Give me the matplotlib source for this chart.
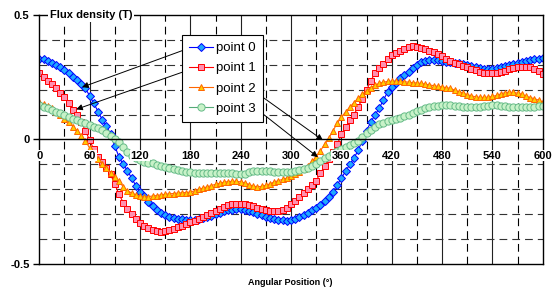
import numpy as np
import matplotlib
matplotlib.use('Agg')
import matplotlib.pyplot as plt
from matplotlib.ticker import MultipleLocator

plt.rcParams['font.family'] = ['Liberation Sans', 'DejaVu Sans']

# angular positions, one reading every 5 degrees
angle = list(range(0, 601, 5))

point0 = [0.325, 0.322, 0.316, 0.308, 0.298, 0.289, 0.278, 0.265, 0.252, 0.238,
          0.222, 0.205, 0.175, 0.145, 0.112, 0.080, 0.055, 0.020, -0.027, -0.070,
          -0.100, -0.125, -0.155, -0.185, -0.210, -0.228, -0.250, -0.268, -0.282, -0.295,
          -0.305, -0.311, -0.316, -0.319, -0.321, -0.323, -0.324, -0.322, -0.320, -0.316,
          -0.312, -0.306, -0.300, -0.294, -0.289, -0.285, -0.282, -0.281, -0.281, -0.284,
          -0.288, -0.293, -0.299, -0.305, -0.310, -0.315, -0.319, -0.322, -0.325, -0.326,
          -0.324, -0.318, -0.310, -0.302, -0.294, -0.285, -0.275, -0.262, -0.246, -0.230,
          -0.210, -0.182, -0.155, -0.128, -0.100, -0.075, -0.043, -0.005, 0.035, 0.070,
          0.098, 0.125, 0.158, 0.190, 0.210, 0.228, 0.245, 0.258, 0.272, 0.285,
          0.300, 0.310, 0.316, 0.320, 0.321, 0.320, 0.317, 0.313, 0.310, 0.308,
          0.306, 0.304, 0.300, 0.296, 0.291, 0.287, 0.284, 0.283, 0.284, 0.286,
          0.289, 0.293, 0.298, 0.304, 0.309, 0.313, 0.317, 0.320, 0.322, 0.324,
          0.327]

point1 = [0.265, 0.250, 0.234, 0.222, 0.206, 0.188, 0.170, 0.146, 0.118, 0.098,
          0.070, 0.035, -0.003, -0.040, -0.070, -0.090, -0.115, -0.140, -0.180, -0.220,
          -0.253, -0.278, -0.300, -0.320, -0.335, -0.347, -0.356, -0.362, -0.367, -0.370,
          -0.368, -0.364, -0.358, -0.352, -0.346, -0.339, -0.332, -0.326, -0.319, -0.311,
          -0.303, -0.295, -0.287, -0.278, -0.270, -0.263, -0.259, -0.257, -0.257, -0.259,
          -0.263, -0.268, -0.274, -0.280, -0.285, -0.288, -0.289, -0.289, -0.284, -0.274,
          -0.260, -0.245, -0.230, -0.215, -0.198, -0.182, -0.165, -0.135, -0.108, -0.080,
          -0.050, -0.020, 0.020, 0.050, 0.077, 0.100, 0.130, 0.163, 0.198, 0.235,
          0.266, 0.287, 0.305, 0.322, 0.338, 0.348, 0.357, 0.364, 0.372, 0.375,
          0.370, 0.367, 0.362, 0.356, 0.350, 0.343, 0.334, 0.325, 0.316, 0.308,
          0.302, 0.296, 0.290, 0.283, 0.277, 0.272, 0.268, 0.266, 0.265, 0.266,
          0.270, 0.276, 0.282, 0.286, 0.289, 0.291, 0.291, 0.290, 0.283, 0.273,
          0.262]

point2 = [0.150, 0.142, 0.134, 0.125, 0.112, 0.098, 0.084, 0.069, 0.052, 0.035,
          0.015, -0.005, -0.035, -0.060, -0.078, -0.098, -0.116, -0.133, -0.150, -0.168,
          -0.190, -0.205, -0.215, -0.222, -0.228, -0.230, -0.229, -0.227, -0.225, -0.222,
          -0.220, -0.218, -0.217, -0.215, -0.214, -0.213, -0.211, -0.206, -0.200, -0.195,
          -0.190, -0.185, -0.180, -0.176, -0.172, -0.169, -0.168, -0.168, -0.170, -0.174,
          -0.181, -0.187, -0.190, -0.188, -0.184, -0.178, -0.171, -0.165, -0.160, -0.155,
          -0.148, -0.140, -0.130, -0.118, -0.105, -0.088, -0.070, -0.045, -0.020, 0.005,
          0.035, 0.065, 0.090, 0.110, 0.130, 0.148, 0.165, 0.182, 0.196, 0.208,
          0.218, 0.225, 0.230, 0.233, 0.234, 0.234, 0.233, 0.232, 0.230, 0.228,
          0.227, 0.225, 0.222, 0.219, 0.216, 0.213, 0.211, 0.208, 0.205, 0.198,
          0.192, 0.186, 0.180, 0.175, 0.171, 0.169, 0.169, 0.170, 0.173, 0.177,
          0.183, 0.188, 0.190, 0.189, 0.186, 0.181, 0.174, 0.168, 0.164, 0.158,
          0.150]

point3 = [0.138, 0.132, 0.125, 0.118, 0.112, 0.105, 0.098, 0.090, 0.084, 0.078,
          0.072, 0.065, 0.059, 0.052, 0.045, 0.037, 0.028, 0.015, 0.002, -0.012,
          -0.030, -0.050, -0.065, -0.076, -0.084, -0.089, -0.093, -0.096, -0.101, -0.105,
          -0.109, -0.113, -0.117, -0.122, -0.126, -0.129, -0.131, -0.133, -0.134, -0.134,
          -0.134, -0.134, -0.134, -0.134, -0.134, -0.135, -0.136, -0.138, -0.140, -0.137,
          -0.131, -0.128, -0.126, -0.126, -0.127, -0.128, -0.129, -0.130, -0.130, -0.130,
          -0.129, -0.127, -0.124, -0.120, -0.114, -0.106, -0.098, -0.085, -0.075, -0.065,
          -0.055, -0.046, -0.038, -0.030, -0.022, -0.016, -0.005, 0.008, 0.025, 0.040,
          0.052, 0.062, 0.068, 0.073, 0.078, 0.083, 0.088, 0.093, 0.100, 0.108,
          0.115, 0.120, 0.126, 0.130, 0.133, 0.135, 0.137, 0.138, 0.138, 0.136,
          0.134, 0.132, 0.130, 0.130, 0.130, 0.131, 0.133, 0.135, 0.137, 0.138,
          0.136, 0.133, 0.130, 0.129, 0.129, 0.129, 0.130, 0.131, 0.132, 0.133,
          0.134]

labels = ['point 0', 'point 1', 'point 2', 'point 3']

# %%
fig = plt.figure(figsize=(5.56, 2.87), dpi=100)
ax = fig.add_axes([0.0707, 0.080, 0.9055, 0.868])

# series styles (excel-like)
ax.plot(angle, point0, color='#0000FF', lw=0.8, marker='D', ms=4.2,
        mfc='#1EA8FF', mec='#0000FF', mew=0.7, label=labels[0], zorder=3)
ax.plot(angle, point1, color='#FF0000', lw=0.8, marker='s', ms=3.8,
        mfc='#FF90B0', mec='#FF0000', mew=0.7, label=labels[1], zorder=3)
ax.plot(angle, point2, color='#FF6600', lw=0.8, marker='^', ms=3.8,
        mfc='#FFCC00', mec='#FF6600', mew=0.7, label=labels[2], zorder=3)
ax.plot(angle, point3, color='#55AA77', lw=0.8, marker='o', ms=5.2,
        mfc='#C8F2C8', mec='#66BB88', mew=0.7, label=labels[3], zorder=3)

ax.set_xlim(0, 600)
ax.set_ylim(-0.5, 0.5)
ax.xaxis.set_major_locator(MultipleLocator(60))
ax.set_yticks([-0.5, 0, 0.5])
ax.set_yticklabels(['-0.5', '0', '0.5'])

# grid drawn by hand so it stays under the curves while tick labels go on top
dash = (0, (7, 4.5))
for x in range(60, 600, 60):
    ax.axvline(x, color='#222222', lw=0.8, zorder=1)
for x in range(30, 600, 60):
    ax.axvline(x, color='black', lw=0.8, ls=dash, zorder=1)
for y in [-0.4, -0.3, -0.2, -0.1, 0.1, 0.2, 0.3, 0.4]:
    ax.axhline(y, color='#333333', lw=0.8, ls=dash, zorder=1)

# x axis crosses at zero, frame closed at -0.5
ax.spines['bottom'].set_position(('data', 0))
ax.axhline(-0.5, color='black', lw=1.0, clip_on=False, zorder=4)
for s in ['top', 'right', 'left', 'bottom']:
    ax.spines[s].set_linewidth(1.0)
    ax.spines[s].set_zorder(4)
ax.xaxis.set_zorder(5)
ax.yaxis.set_zorder(5)

ax.tick_params(axis='x', which='both', length=0, pad=8, labelsize=8)
ax.tick_params(axis='y', which='major', direction='out', length=4, width=1,
               pad=3, labelsize=8)
for t in ax.get_xticklabels() + ax.get_yticklabels():
    t.set_fontweight('bold')
for t in ax.get_xticklabels():
    t.set_bbox(dict(facecolor='white', edgecolor='none', pad=0.6))

ax.text(0.021, 1.0, 'Flux density (T)', transform=ax.transAxes, fontsize=8,
        fontweight='bold', va='center', ha='left', zorder=6,
        bbox=dict(facecolor='white', edgecolor='none', pad=1.5))
fig.text(0.5216, 0.0174, 'Angular Position (°)', fontsize=6.5,
         fontweight='bold', ha='center', va='center')

# legend box
leg = ax.legend(loc='upper left', bbox_to_anchor=(0.283, 0.92), borderaxespad=0,
                fontsize=9.5, fancybox=False, framealpha=1, edgecolor='black',
                handlelength=1.8, handletextpad=0.25, labelspacing=0.6,
                borderpad=0.55)
leg.get_frame().set_linewidth(0.8)
leg.set_zorder(7)

# callout arrows from legend to the curves
arrow = dict(arrowstyle='-|>', color='black', lw=0.7, mutation_scale=9,
             shrinkA=0, shrinkB=0)
ax.annotate('', xy=(51, 0.21), xytext=(182, 0.371), arrowprops=arrow, zorder=5)
ax.annotate('', xy=(44, 0.121), xytext=(185.6, 0.288), arrowprops=arrow, zorder=5)
ax.annotate('', xy=(338, -0.003), xytext=(259.5, 0.186), arrowprops=arrow, zorder=5)
ax.annotate('', xy=(332, -0.071), xytext=(260.7, 0.118), arrowprops=arrow, zorder=5)

fig.savefig('out.png', dpi=100)
